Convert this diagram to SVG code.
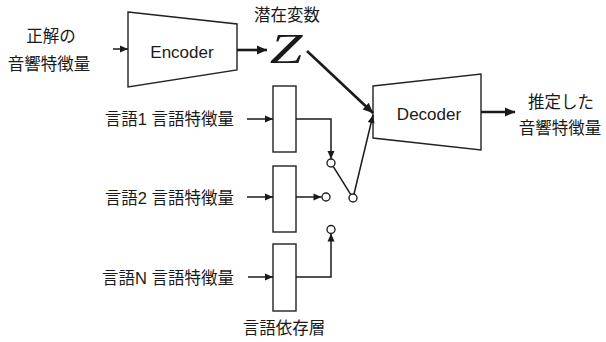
<svg xmlns="http://www.w3.org/2000/svg" width="606" height="342" viewBox="0 0 606 342">
  <style>
    .shape { fill: #ffffff; stroke: #222222; stroke-width: 1.4; }
    .label { font-family: "Liberation Sans", "Noto Sans CJK JP", sans-serif; font-size: 16.5px; fill: #1a1a1a; }
    .block { font-family: "Liberation Sans", "Noto Sans CJK JP", sans-serif; font-size: 17px; fill: #1a1a1a; text-anchor: middle; }
    .thin { fill: none; stroke: #1a1a1a; stroke-width: 1.5; }
    .thick { fill: none; stroke: #1a1a1a; stroke-width: 2.6; }
    .port { fill: #ffffff; stroke: #222222; stroke-width: 1.4; }
  </style>
  <defs>
    <marker id="headS" markerUnits="userSpaceOnUse" markerWidth="10" markerHeight="10" viewBox="0 0 10 10" refX="9" refY="5" orient="auto">
      <path d="M1,1.5 L9,5 L1,8.5 Z" fill="#1a1a1a"/>
    </marker>
    <marker id="headL" markerUnits="userSpaceOnUse" markerWidth="12" markerHeight="12" viewBox="0 0 12 12" refX="11" refY="6" orient="auto">
      <path d="M1,1.5 L11,6 L1,10.5 Z" fill="#1a1a1a"/>
    </marker>
  </defs>

  <rect width="606" height="342" fill="#ffffff"/>

  <!-- input features -->
  <g id="input-label">
    <text class="label" x="51" y="42" text-anchor="middle">正解の</text>
    <text class="label" x="49" y="70" text-anchor="middle">音響特徴量</text>
  </g>

  <!-- encoder -->
  <g id="encoder">
    <polygon class="shape" points="128,12 237,24 237,70 128,87"/>
    <text class="block" x="182" y="58">Encoder</text>
  </g>

  <!-- latent variable -->
  <g id="latent">
    <text class="label" x="287" y="21" text-anchor="middle">潜在変数</text>
    <text transform="translate(286,63) scale(1.4,1)" font-family="Liberation Serif, serif" font-style="italic" font-size="42" fill="#1a1a1a" text-anchor="middle">Z</text>
  </g>

  <!-- decoder -->
  <g id="decoder">
    <polygon class="shape" points="373,86 481,74 481,150 373,138"/>
    <text class="block" x="429" y="120">Decoder</text>
  </g>

  <!-- output features -->
  <g id="output-label">
    <text class="label" x="561" y="108" text-anchor="middle">推定した</text>
    <text class="label" x="560" y="134" text-anchor="middle">音響特徴量</text>
  </g>

  <!-- language-dependent layers -->
  <g id="lang1">
    <text class="label" x="234" y="125" text-anchor="end">言語1 言語特徴量</text>
    <rect class="shape" x="273" y="86" width="23" height="66"/>
  </g>
  <g id="lang2">
    <text class="label" x="234" y="204" text-anchor="end">言語2 言語特徴量</text>
    <rect class="shape" x="273" y="166" width="23" height="66"/>
  </g>
  <g id="langN">
    <text class="label" x="234" y="284" text-anchor="end">言語N 言語特徴量</text>
    <rect class="shape" x="273" y="244" width="23" height="67"/>
  </g>
  <g id="layer-caption">
    <text class="label" x="284" y="334" text-anchor="middle">言語依存層</text>
  </g>

  <!-- connectors -->
  <g id="connectors">
    <path class="thin" d="M113,49 L128,49" stroke-width="2" marker-end="url(#headS)"/>
    <path class="thick" d="M237,50 L267,50" marker-end="url(#headL)"/>
    <path class="thick" d="M307,51 L373,113" marker-end="url(#headL)"/>
    <path class="thick" d="M481,112 L515,112" marker-end="url(#headL)"/>

    <path class="thin" d="M247,119 L273,119" marker-end="url(#headS)"/>
    <path class="thin" d="M247,197 L273,197" marker-end="url(#headS)"/>
    <path class="thin" d="M248,277 L273,277" marker-end="url(#headS)"/>

    <path class="thin" d="M296,119 H331 V159" marker-end="url(#headS)"/>
    <path class="thin" d="M296,197 H321.5" marker-end="url(#headS)"/>
    <path class="thin" d="M296,277 H331 V233.5" marker-end="url(#headS)"/>

    <path class="thin" d="M333.2,166.4 L350.8,194.6"/>
    <path class="thin" d="M354,194 L373,115" marker-end="url(#headS)"/>

    <!-- switch contacts -->
    <circle class="port" cx="331" cy="163" r="4"/>
    <circle class="port" cx="326" cy="197" r="4"/>
    <circle class="port" cx="331" cy="229.5" r="4"/>
    <circle class="port" cx="353" cy="198" r="4"/>
  </g>
</svg>
